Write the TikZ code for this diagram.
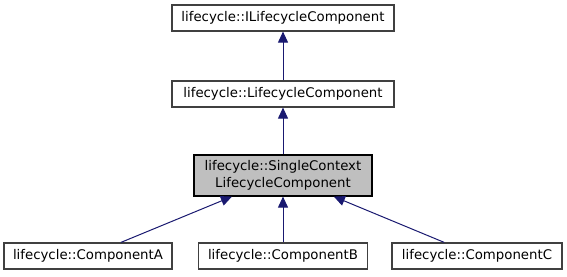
\documentclass[tikz,border=0pt]{standalone}
\usepackage{fontspec}
\setmainfont{DejaVu Sans}
\usetikzlibrary{arrows.meta}
\definecolor{edgeblue}{HTML}{191970}
\definecolor{boxline}{HTML}{404040}
\definecolor{hilite}{HTML}{BFBFBF}
\begin{document}
\begin{tikzpicture}[x=1pt,y=-1pt,
  cls/.style={draw=boxline, line width=1.2pt, fill=white, inner sep=0pt,
    minimum height=26pt, font=\fontsize{13.3}{16.5}\selectfont, align=center},
  current/.style={cls, draw=black, fill=hilite, minimum height=41pt},
  inherit/.style={draw=edgeblue, line width=1pt,
    -{Triangle[length=11pt,width=10pt,color=edgeblue]}}]
\useasboundingbox (0,0) rectangle (567,276);
% class hierarchy
\node[cls, minimum width=222pt] (I) at (283,18) {lifecycle::ILifecycleComponent};
\node[cls, minimum width=222pt] (L) at (283,94) {lifecycle::LifecycleComponent};
\node[current, minimum width=178pt] (S) at (283,175.5) {lifecycle::SingleContext\\LifecycleComponent};
\node[cls, minimum width=168pt] (A) at (88,256) {lifecycle::ComponentA};
\node[cls, minimum width=169pt] (B) at (283,256) {lifecycle::ComponentB};
\node[cls, minimum width=170pt] (C) at (477,256) {lifecycle::ComponentC};
% inheritance arrows
\draw[inherit] (L) -- (I);
\draw[inherit] (S) -- (L);
\draw[inherit] (A) -- (S);
\draw[inherit] (B) -- (S);
\draw[inherit] (C) -- (S);
\end{tikzpicture}
\end{document}
